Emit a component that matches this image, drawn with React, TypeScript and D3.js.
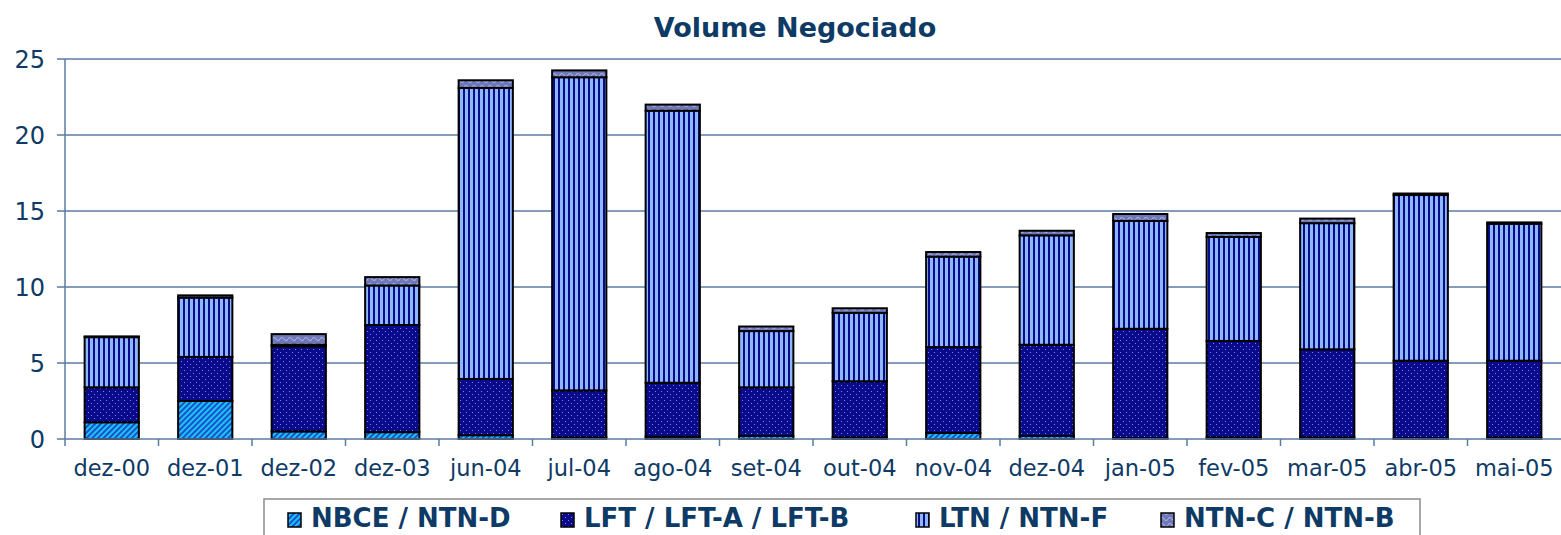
import React from "react";
import * as d3 from "d3";

const categories = ["dez-00","dez-01","dez-02","dez-03","jun-04","jul-04","ago-04","set-04","out-04","nov-04","dez-04","jan-05","fev-05","mar-05","abr-05","mai-05"];
const nbce = [1.1, 2.5, 0.5, 0.45, 0.25, 0.1, 0.15, 0.2, 0.1, 0.4, 0.2, 0.05, 0.1, 0.1, 0.05, 0.1];
const lft = [2.3, 2.9, 5.6, 7.05, 3.7, 3.1, 3.55, 3.2, 3.7, 5.65, 6.0, 7.2, 6.35, 5.8, 5.1, 5.05];
const ltn = [3.3, 3.9, 0.1, 2.6, 19.15, 20.6, 17.9, 3.7, 4.5, 5.95, 7.2, 7.1, 6.85, 8.3, 10.9, 9.0];
const ntnc = [0.05, 0.15, 0.7, 0.55, 0.5, 0.45, 0.4, 0.3, 0.3, 0.3, 0.3, 0.45, 0.25, 0.3, 0.1, 0.1];
const seriesNames = ["NBCE / NTN-D", "LFT / LFT-A / LFT-B", "LTN / NTN-F", "NTN-C / NTN-B"];
const yTicks = [0, 5, 10, 15, 20, 25];

const patternIds = ["pNbce", "pLft", "pLtn", "pNtnc"];

export default function App() {
  const W = 1561, H = 535;
  const x = d3.scaleBand().domain(categories).range([65, 1561]).paddingInner(0.42).paddingOuter(0.21);
  const xb = d3.scaleBand().domain(categories).range([65, 1561]).padding(0);
  const y = d3.scaleLinear().domain([0, 25]).range([439, 59]);
  const rows = categories.map((c, i) => ({ cat: c, s0: nbce[i], s1: lft[i], s2: ltn[i], s3: ntnc[i] }));
  const stack = d3.stack().keys(["s0", "s1", "s2", "s3"]);
  const layers = stack(rows as any);
  const axisColor = "#5B7BA3";
  const textColor = "#0E3A66";
  const font = "DejaVu Sans, Verdana, sans-serif";

  const legendX = [288, 561, 916, 1161];

  return (
    <svg width={W} height={H} style={{ position: "absolute", left: 0, top: 0, background: "#fff" }} fontFamily={font}>
      <defs>
        <pattern id="pNbce" patternUnits="userSpaceOnUse" width="4" height="4" patternTransform="rotate(45)">
          <rect width="4" height="4" fill="#1E4FD0" />
          <rect width="2" height="4" fill="#19C6F0" />
        </pattern>
        <pattern id="pLft" patternUnits="userSpaceOnUse" width="6" height="6">
          <rect width="6" height="6" fill="#0A0A8C" />
          <rect x="1" y="1" width="1" height="1" fill="#7B86E0" />
          <rect x="4" y="4" width="1" height="1" fill="#7B86E0" />
        </pattern>
        <pattern id="pLtn" patternUnits="userSpaceOnUse" width="5" height="5">
          <rect width="5" height="5" fill="#8DB8F5" />
          <rect x="3" width="2" height="5" fill="#0A0A8C" />
        </pattern>
        <pattern id="pNtnc" patternUnits="userSpaceOnUse" width="8" height="6">
          <rect width="8" height="6" fill="#6F78B8" />
          <path d="M0,3 Q2,0 4,3 T8,3" stroke="#A7B0E0" strokeWidth="1.2" fill="none" />
        </pattern>
      </defs>

      <text x={795} y={37} textAnchor="middle" fontSize={27} fontWeight="bold" fill={textColor}>Volume Negociado</text>

      {yTicks.map(t => (
        <g key={t}>
          {t > 0 && <line x1={65} x2={1561} y1={y(t)} y2={y(t)} stroke={axisColor} strokeWidth={1.5} />}
          <line x1={57} x2={65} y1={y(t)} y2={y(t)} stroke={axisColor} strokeWidth={1.5} />
          <text x={45} y={y(t) + 9} textAnchor="end" fontSize={24} fill={textColor}>{t}</text>
        </g>
      ))}

      {layers.map((layer, li) => (
        <g key={li}>
          {layer.map((d, i) => (
            <rect key={i} x={x(categories[i])} width={x.bandwidth()} y={y(d[1])} height={Math.max(0, y(d[0]) - y(d[1]))}
              fill={`url(#${patternIds[li]})`} stroke="#000" strokeWidth={2} />
          ))}
        </g>
      ))}

      <line x1={65} x2={65} y1={59} y2={439} stroke={axisColor} strokeWidth={1.5} />
      <line x1={65} x2={1561} y1={439} y2={439} stroke={axisColor} strokeWidth={1.5} />
      {categories.map((c, i) => (
        <g key={c}>
          <line x1={xb(c)} x2={xb(c)} y1={439} y2={446} stroke={axisColor} strokeWidth={1.5} />
          <text x={(x(c) as number) + x.bandwidth() / 2} y={476} textAnchor="middle" fontSize={22.5} fill={textColor}>{c}</text>
        </g>
      ))}

      <rect x={264} y={499} width={1156} height={45} fill="#fff" stroke="#8C8C8C" strokeWidth={1.5} />
      {seriesNames.map((n, i) => (
        <g key={n}>
          <rect x={legendX[i]} y={513} width={13} height={14} fill={`url(#${patternIds[i]})`} stroke="#000" strokeWidth={1.5} />
          <text x={legendX[i] + 23} y={527} fontSize={26} fontWeight="bold" fill={textColor}>{n}</text>
        </g>
      ))}
    </svg>
  );
}
